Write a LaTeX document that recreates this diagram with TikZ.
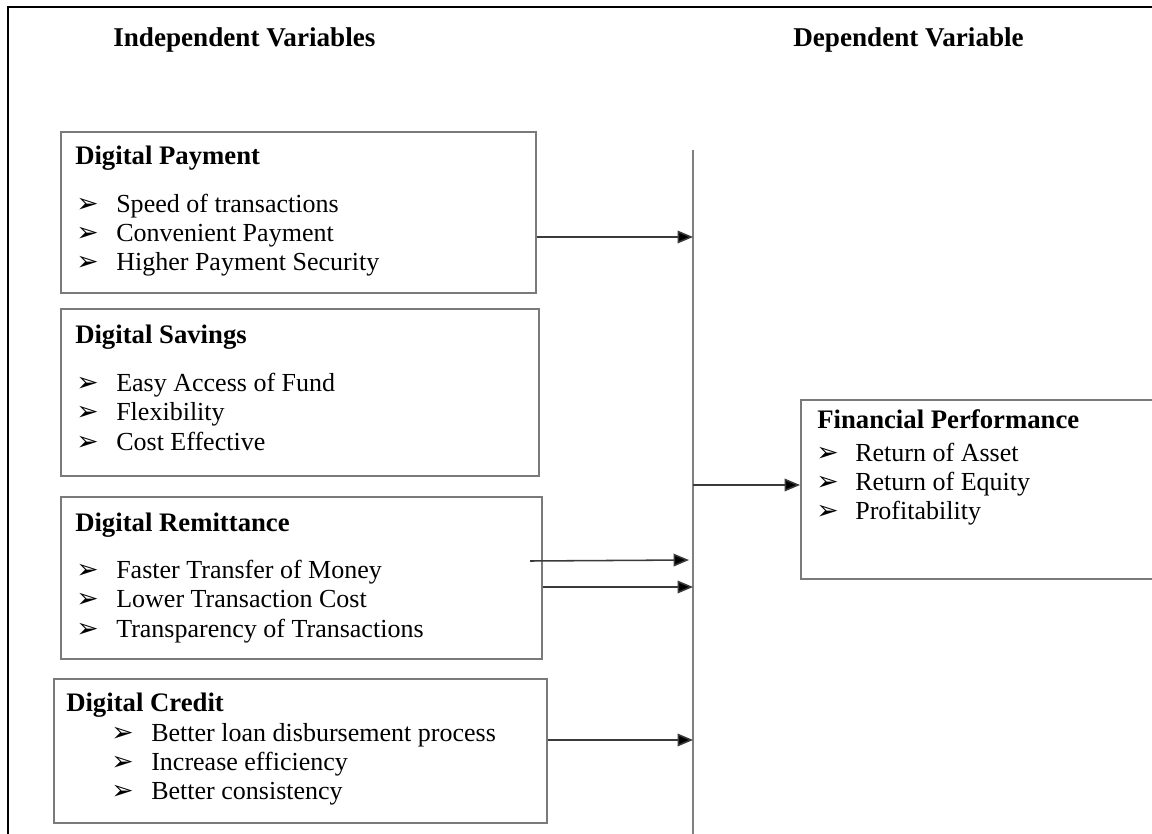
\documentclass[tikz,border=0pt]{standalone}
\usepackage{fontspec}
\setmainfont{Liberation Serif}
\newfontfamily\bulletfont{DejaVu Sans}
\usetikzlibrary{arrows.meta,positioning}
\definecolor{framegray}{HTML}{7A7A7A}
\definecolor{linegray}{HTML}{3A3A3A}
\definecolor{axisgray}{HTML}{808080}
\newcommand{\itemmark}{{\bulletfont\char"27A2}}
\tikzset{
  frameline/.style={black, line width=1pt},
  varbox/.style={draw=framegray, line width=1.1pt, rectangle, inner sep=0pt, anchor=north west},
  headtext/.style={font=\fontsize{19.3}{21}\selectfont\bfseries, anchor=base west, inner sep=0pt},
  titletext/.style={font=\fontsize{19}{21}\selectfont\bfseries, anchor=base west, inner sep=0pt},
  itemtext/.style={font=\fontsize{18.5}{21}\selectfont, anchor=base west, inner sep=0pt},
  marktext/.style={font=\fontsize{19}{21}\selectfont, anchor=base west, inner sep=0pt},
  flow/.style={linegray, line width=1.1pt, -{Triangle[length=11pt,width=9pt,fill=black]}}
}

\begin{document}
\begin{tikzpicture}[x=0.025cm,y=-0.025cm]
  \useasboundingbox (0,0) rectangle (1152,834);
  % outer frame, open to the right and below
  \draw[frameline] (8,834) -- (8,7) -- (1152,7);
  \node[headtext] (indep) at (113,47) {Independent Variables};
  \node[headtext] (dep) at (793,47) {Dependent Variable};

  % independent variable boxes
  \node[varbox, minimum width=11.875cm, minimum height=4.025cm] (pay) at (60,131) {};
  \node[titletext] (payT) at (75,165) {Digital Payment};
  \node[marktext] (payM1) at (76,212) {\itemmark};
  \node[itemtext] (payI1) at (116,212) {Speed of transactions};
  \node[marktext] (payM2) at (76,241) {\itemmark};
  \node[itemtext] (payI2) at (116,241) {Convenient Payment};
  \node[marktext] (payM3) at (76,270) {\itemmark};
  \node[itemtext] (payI3) at (116,270) {Higher Payment Security};

  \node[varbox, minimum width=11.95cm, minimum height=4.175cm] (sav) at (60,308) {};
  \node[titletext] (savT) at (75,343) {Digital Savings};
  \node[marktext] (savM1) at (76,391) {\itemmark};
  \node[itemtext] (savI1) at (116,391) {Easy Access of Fund};
  \node[marktext] (savM2) at (76,420) {\itemmark};
  \node[itemtext] (savI2) at (116,420) {Flexibility};
  \node[marktext] (savM3) at (76,450) {\itemmark};
  \node[itemtext] (savI3) at (116,450) {Cost Effective};

  \node[varbox, minimum width=12.025cm, minimum height=4.05cm] (rem) at (60,496) {};
  \node[titletext] (remT) at (75,531) {Digital Remittance};
  \node[marktext] (remM1) at (76,578) {\itemmark};
  \node[itemtext] (remI1) at (116,578) {Faster Transfer of Money};
  \node[marktext] (remM2) at (76,607) {\itemmark};
  \node[itemtext] (remI2) at (116,607) {Lower Transaction Cost};
  \node[marktext] (remM3) at (76,637) {\itemmark};
  \node[itemtext] (remI3) at (116,637) {Transparency of Transactions};

  \node[varbox, minimum width=12.325cm, minimum height=3.6cm] (cre) at (53,678) {};
  \node[titletext] (creT) at (66,711) {Digital Credit};
  \node[marktext] (creM1) at (111,741) {\itemmark};
  \node[itemtext] (creI1) at (151,741) {Better loan disbursement process};
  \node[marktext] (creM2) at (111,770) {\itemmark};
  \node[itemtext] (creI2) at (151,770) {Increase efficiency};
  \node[marktext] (creM3) at (111,799) {\itemmark};
  \node[itemtext] (creI3) at (151,799) {Better consistency};

  % dependent variable box
  \node[varbox, minimum width=9cm, minimum height=4.475cm] (fin) at (800,399) {};
  \node[titletext] (finT) at (817,428) {Financial Performance};
  \node[marktext] (finM1) at (816,461) {\itemmark};
  \node[itemtext] (finI1) at (855,461) {Return of Asset};
  \node[marktext] (finM2) at (816,490) {\itemmark};
  \node[itemtext] (finI2) at (855,490) {Return of Equity};
  \node[marktext] (finM3) at (816,519) {\itemmark};
  \node[itemtext] (finI3) at (855,519) {Profitability};

  % collecting line and arrows
  \coordinate (barTop) at (693,150);
  \coordinate (barBot) at (693,834);
  \draw[axisgray, line width=1.4pt] (barTop) -- (barBot);
  \coordinate (payIn) at (693,237);
  \coordinate (remIn1) at (689,560);
  \coordinate (remOut1) at (530,561);
  \coordinate (remIn2) at (693,587);
  \coordinate (creIn) at (693,740);
  \coordinate (finOut) at (693,485);
  \draw[flow] (pay.east |- payIn) -- (payIn);
  \draw[flow] (remOut1) -- (remIn1);
  \draw[flow] (rem.east |- remIn2) -- (remIn2);
  \draw[flow] (cre.east |- creIn) -- (creIn);
  \draw[flow] (finOut) -- (fin.west |- finOut);
\end{tikzpicture}
\end{document}
